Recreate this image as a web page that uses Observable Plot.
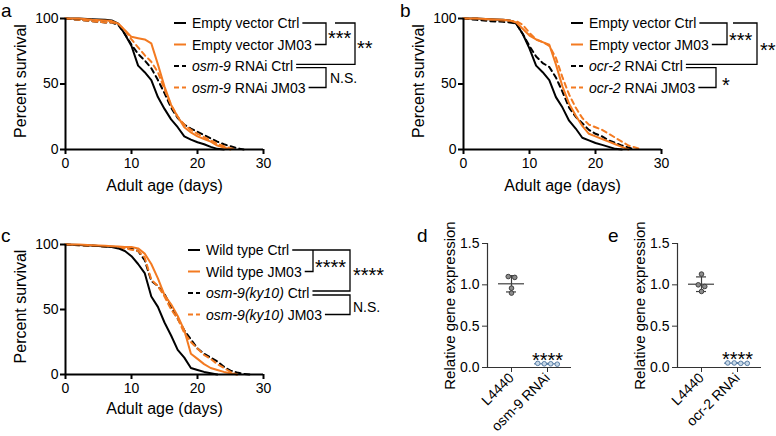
<!DOCTYPE html>
<html><head><meta charset="utf-8">
<script src="https://cdn.jsdelivr.net/npm/d3@7"></script>
<script src="https://cdn.jsdelivr.net/npm/@observablehq/plot@0.6"></script>
<style>
body{margin:0;background:#fff;}
#fig{position:relative;width:776px;height:436px;overflow:hidden;background:#fff;font-family:"Liberation Sans",Arial,sans-serif;}
#fig > svg{position:absolute;overflow:visible;}
#fig text{white-space:pre;}
</style></head><body><div id="fig"></div>
<script>
// ---------- DATA ----------
const seriesLabelsA = [["", "Empty vector Ctrl"], ["", "Empty vector JM03"], ["osm-9", " RNAi Ctrl"], ["osm-9", " RNAi JM03"]];
const seriesLabelsB = [["", "Empty vector Ctrl"], ["", "Empty vector JM03"], ["ocr-2", " RNAi Ctrl"], ["ocr-2", " RNAi JM03"]];
const seriesLabelsC = [["", "Wild type Ctrl"], ["", "Wild type JM03"], ["osm-9(ky10)", " Ctrl"], ["osm-9(ky10)", " JM03"]];

const days = [0, 2, 4, 6, 7, 8, 9, 10, 11, 12, 13, 14, 15, 16, 17, 18, 19, 20, 21, 22, 23, 24, 25, 26, 27, 28];
// panel a
const aEvCtrl   = [100, 100, 99.5, 99, 98.5, 96, 88, 79, 64, 59, 53, 40, 31, 23, 17, 10, 7.5, 5.5, 4, 2, 0.5, 0, null, null, null, null];
const aEvJM03   = [100, 100, 99, 98.5, 98, 96, 91, 86, 85, 84, 81, 65, 48, 34, 25, 17, 13, 10, 8, 6, 3, 1.5, 0, null, null, null];
const aRnaiCtrl = [100, 99, 98, 97, 97, 95, 88, 80, 73, 68, 62, 53, 43, 32, 24, 19, 16, 13.5, 11, 8.5, 6, 4, 2.5, 1, 0, null];
const aRnaiJM03 = [100, 99, 98, 97, 97, 96, 91, 84, 78, 72, 67, 59, 46, 34, 25, 19, 15, 12, 9.5, 7, 4.5, 2.5, 1, 0, null, null];
// panel b
const bEvCtrl   = [100, 100, 99.5, 99, 98.5, 96, 88, 77, 64, 59, 53, 40, 32, 22, 16, 9, 7, 5, 3.5, 2, 0.5, 0, null, null, null, null];
const bEvJM03   = [100, 100, 99.5, 99, 98.5, 97, 92, 87, 84, 82, 80, 65, 48, 35, 26, 18, 12, 10, 8, 6, 4, 2, 0, null, null, null];
const bRnaiCtrl = [100, 99, 98, 97.5, 97, 96, 88, 79, 71, 66, 63, 55, 44, 32, 25, 20, 15, 12, 10, 7, 5, 3, 1.5, 0, null, null];
const bRnaiJM03 = [100, 100, 99, 98.5, 98, 98, 95, 89, 84, 82, 79, 70, 55, 42, 32, 24, 19, 17, 15, 12, 9, 6, 3, 1.5, 0, null];
// panel c
const cWtCtrl   = [100, 99.7, 99.3, 98.5, 98, 97, 95, 91, 85, 78, 60, 52, 40, 30, 19, 13, 5, 3.5, 2, 1, 0, null, null, null, null, null];
const cWtJM03   = [100, 100, 99.5, 99, 98.7, 98.5, 98, 98, 97, 93, 85, 74, 61, 54, 45, 34, 16, 12, 8, 5, 3.5, 2, 1, 0, null, null];
const cKyCtrl   = [100, 99.5, 99, 98.5, 98.3, 98, 97.5, 97, 95, 88, 72, 68, 62, 52, 43, 34, 27, 20, 16, 13, 10, 6, 3, 1.5, 0.5, 0];
const cKyJM03   = [100, 99.5, 99, 98.5, 98.3, 98, 97, 96, 95, 90, 73, 68, 60, 50, 43, 32, 25, 20, 15, 12, 8, 5, 2, 0, null, null];

// panels d, e (relative gene expression, 4 replicates)
const catsD = ["L4440", "osm-9 RNAi"];
const dL4440 = [1.10, 1.09, 0.96, 0.90];
const dOsm9  = [0.04, 0.045, 0.045, 0.05];
const catsE = ["L4440", "ocr-2 RNAi"];
const eL4440 = [1.13, 1.00, 0.98, 0.92];
const eOcr2  = [0.05, 0.05, 0.055, 0.055];

// ---------- STYLE ----------
const FONT = '"Liberation Sans", Arial, sans-serif';
const orange = "#f37a21";
const styles = [
  {stroke: "#000", dash: undefined, legendDash: null},
  {stroke: orange, dash: undefined, legendDash: null},
  {stroke: "#000", dash: "5,4", legendDash: "5,3"},
  {stroke: orange, dash: "5,4", legendDash: "5,3"}
];
const fig = d3.select("#fig");

function survival(cfg) {
  const marks = [];
  [2, 3, 0, 1].forEach(k => {
    const data = [];
    for (let i = 0; i < days.length; i++) {
      const v = cfg.values[k][i];
      if (v == null) break;
      data.push({day: days[i], pct: v});
    }
    marks.push(Plot.line(data, {x: "day", y: "pct", stroke: styles[k].stroke, strokeWidth: 2, strokeDasharray: styles[k].dash}));
  });
  const plot = Plot.plot({
    width: cfg.width, height: cfg.height,
    marginLeft: 65, marginTop: 18, marginBottom: cfg.height - 18 - cfg.plotH, marginRight: cfg.width - 65 - 198,
    x: {domain: [0, 30]}, y: {domain: [0, 100]},
    style: {fontFamily: FONT, fontSize: "14px", color: "#000", background: "transparent", overflow: "visible"},
    marks: [
      ...marks,
      Plot.ruleX([0], {stroke: "#000", strokeWidth: 2}),
      Plot.ruleY([0], {stroke: "#000", strokeWidth: 2}),
      Plot.axisX({ticks: [0, 10, 20, 30], tickSize: 5, tickPadding: 4, strokeWidth: 2, label: null, fontSize: 14}),
      Plot.axisY({ticks: [0, 50, 100], tickSize: 5, tickPadding: 2, strokeWidth: 2, label: null, fontSize: 14}),
      Plot.text(["Adult age (days)"], {text: d => d, frameAnchor: "bottom", textAnchor: "middle", dy: cfg.xTitleDy, fontSize: 16}),
      Plot.text(["Percent survival"], {text: d => d, frameAnchor: "left", textAnchor: "middle", dx: -45, dy: -3, rotate: -90, fontSize: 16})
    ]
  });
  d3.select(plot).style("left", cfg.left + "px").style("top", cfg.top + "px");
  fig.node().appendChild(plot);
}

function expression(cfg) {
  const plotH = 124, pxPerUnitY = plotH / 1.5, pxPerUnitX = 36;
  const groups = [cfg.g0, cfg.g1];
  const colors = [{fill: "#8c8c8c", stroke: "#3f3f3f"}, {fill: "#c9dae9", stroke: "#5a7ea6"}];
  const pts = [], stats = [];
  groups.forEach((vals, gi) => {
    const sorted = vals.slice().sort((a, b) => b - a);
    const rows = [];
    sorted.forEach(v => {
      const r = rows[rows.length - 1];
      if (r && (r[0] - v) * pxPerUnitY < 4.5) r.push(v); else rows.push([v]);
    });
    rows.forEach(r => r.forEach((v, j) => pts.push({g: gi, v, x: gi + (j - (r.length - 1) / 2) * 6.5 / pxPerUnitX})));
    const m = d3.mean(vals), s = d3.deviation(vals);
    stats.push({i: gi, mean: m, lo: m - s, hi: m + s, max: d3.max(vals), stroke: colors[gi].stroke});
  });
  const mw = 13 / pxPerUnitX, cw = 5 / pxPerUnitX;
  const xDom = [-24 / 36, 1 + 24 / 36];
  const plot = Plot.plot({
    width: cfg.width, height: 226,
    marginLeft: 87, marginTop: 33, marginBottom: 226 - 33 - plotH, marginRight: cfg.width - 87 - 84,
    x: {domain: xDom}, y: {domain: [0, 1.5]},
    style: {fontFamily: FONT, fontSize: "14px", color: "#000", background: "transparent", overflow: "visible"},
    marks: [
      Plot.ruleX([xDom[0]], {stroke: "#333", strokeWidth: 1.2}),
      Plot.ruleY([0], {stroke: "#333", strokeWidth: 1.2}),
      Plot.axisX({ticks: [0, 1], tickFormat: i => cfg.cats[i], tickRotate: -45, tickSize: 5, tickPadding: 3, stroke: "#333", label: null, fontSize: 14}),
      Plot.axisY({ticks: [0, 0.5, 1, 1.5], tickFormat: d3.format(".1f"), tickSize: 5, tickPadding: 3, stroke: "#333", label: null, fontSize: 14}),
      Plot.ruleY(stats, {x1: d => d.i - mw, x2: d => d.i + mw, y: "mean", stroke: "stroke", strokeWidth: 1.2}),
      Plot.ruleX(stats, {x: "i", y1: "lo", y2: "hi", stroke: "stroke", strokeWidth: 1.2}),
      Plot.ruleY(stats, {x1: d => d.i - cw, x2: d => d.i + cw, y: "lo", stroke: "stroke", strokeWidth: 1.2}),
      Plot.ruleY(stats, {x1: d => d.i - cw, x2: d => d.i + cw, y: "hi", stroke: "stroke", strokeWidth: 1.2}),
      Plot.dot(pts, {x: "x", y: "v", r: 2.3, fill: d => colors[d.g].fill, stroke: d => colors[d.g].stroke, strokeWidth: 1}),
      Plot.text([stats[1]], {x: "i", y: "max", text: () => "****", dy: -3, fontSize: 20}),
      Plot.text(["Relative gene expression"], {text: d => d, frameAnchor: "left", textAnchor: "middle", dx: -37, rotate: -90, fontSize: 15})
    ]
  });
  d3.select(plot).style("left", cfg.left + "px").style("top", "210px");
  fig.node().appendChild(plot);
}

survival({left: 0, top: 0, width: 380, height: 205, plotH: 131, xTitleDy: 41, values: [aEvCtrl, aEvJM03, aRnaiCtrl, aRnaiJM03]});
survival({left: 398, top: 0, width: 378, height: 205, plotH: 131, xTitleDy: 41, values: [bEvCtrl, bEvJM03, bRnaiCtrl, bRnaiJM03]});
survival({left: 0, top: 226, width: 380, height: 210, plotH: 130, xTitleDy: 39.5, values: [cWtCtrl, cWtJM03, cKyCtrl, cKyJM03]});
expression({left: 400, width: 190, cats: catsD, g0: dL4440, g1: dOsm9});
expression({left: 590, width: 186, cats: catsE, g0: eL4440, g1: eOcr2});

// ---------- ANNOTATIONS (legends, brackets, panel letters) ----------
const ov = fig.append("svg").attr("width", 776).attr("height", 436).style("left", "0px").style("top", "0px")
  .attr("font-family", FONT).style("pointer-events", "none");

function legend(labels, textX, rows) {
  const ends = [];
  labels.forEach((lab, i) => {
    const y = rows[i], st = styles[i];
    ov.append("line").attr("x1", textX - 18).attr("x2", textX - 6).attr("y1", y).attr("y2", y)
      .attr("stroke", st.stroke).attr("stroke-width", 2).attr("stroke-dasharray", st.legendDash);
    const t = ov.append("text").attr("x", textX).attr("y", y + 5).attr("font-size", 14).attr("fill", "#000");
    if (lab[0]) t.append("tspan").attr("font-style", "italic").text(lab[0]);
    t.append("tspan").text(lab[1]);
    ends.push(textX + t.node().getComputedTextLength() + 3);
  });
  return ends;
}
function poly(points) {
  ov.append("path").attr("d", d3.line()(points)).attr("fill", "none").attr("stroke", "#000").attr("stroke-width", 1.3);
}
function label(x, y, txt, size) {
  ov.append("text").attr("x", x).attr("y", y).attr("font-size", size).attr("fill", "#000").text(txt);
}

// panel a
{
  const r = [23, 44.5, 66, 87.5];
  const e = legend(seriesLabelsA, 192, r);
  poly([[e[0], r[0]], [326, r[0]], [326, r[1]], [e[1], r[1]]]);
  poly([[335, r[0]], [355, r[0]], [355, r[2] - 1.7], [e[2], r[2] - 1.7]]);
  poly([[e[2], r[2] + 1.7], [326, r[2] + 1.7], [326, r[3]], [e[3], r[3]]]);
  label(328, 44.5, "***", 20); label(357, 54.5, "**", 20); label(330, 83, "N.S.", 14);
}
// panel b
{
  const r = [23, 44.5, 66, 87.5];
  const e = legend(seriesLabelsB, 589, r);
  poly([[e[0], r[0]], [727, r[0]], [727, r[1]], [e[1], r[1]]]);
  poly([[733, r[0]], [757, r[0]], [757, r[2] - 1.7], [e[2], r[2] - 1.7]]);
  poly([[e[2], r[2] + 1.7], [716, r[2] + 1.7], [716, r[3]], [e[3], r[3]]]);
  label(729, 46.5, "***", 20); label(760, 56.5, "**", 20); label(722, 91.5, "*", 20);
}
// panel c
{
  const r = [250, 271.5, 293, 314.5];
  const e = legend(seriesLabelsC, 206, r);
  poly([[e[0], r[0]], [350, r[0]], [350, r[2] - 2], [e[2], r[2] - 2]]);
  poly([[313, r[0]], [313, r[1]], [e[1], r[1]]]);
  poly([[e[2], r[2] + 2], [350, r[2] + 2], [350, r[3]], [e[3], r[3]]]);
  label(315, 273.5, "****", 20); label(353, 281.5, "****", 20); label(353, 312, "N.S.", 14);
}
// panel letters
label(1, 17, "a", 19); label(400, 17, "b", 19); label(1, 242, "c", 19); label(417, 242, "d", 19); label(608, 242, "e", 19);
</script></body></html>
